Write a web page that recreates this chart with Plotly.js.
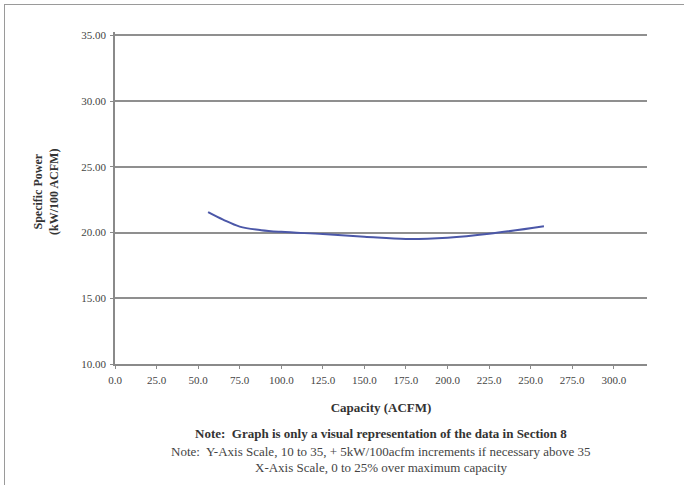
<!DOCTYPE html>
<html>
<head>
<meta charset="utf-8">
<script src="https://cdn.plot.ly/plotly-3.0.1.min.js"></script>
<style>
  html, body { margin: 0; padding: 0; background: #fff; }
  #wrap { position: relative; width: 688px; height: 485px; overflow: hidden; }
  #chart { position: absolute; left: 0; top: 0; width: 688px; height: 485px; z-index: 1; }
  #frame { position: absolute; left: 4px; top: 4px; width: 679px; height: 500px; z-index: 10;
           border-left: 1.5px solid #9a9a9a; border-top: 1.5px solid #9a9a9a; pointer-events: none; }
</style>
</head>
<body>
<div id="wrap">
  <div id="chart"></div>
  <div id="frame"></div>
</div>
<script>
// Data
const capacity = [56, 65, 75, 88, 100, 125, 150, 175, 200, 225, 258];
const specificPower = [21.55, 20.98, 20.45, 20.18, 20.05, 19.88, 19.68, 19.5, 19.6, 19.9, 20.48];

const xTickVals = [0, 25, 50, 75, 100, 125, 150, 175, 200, 225, 250, 275, 300];
const yTickVals = [10, 15, 20, 25, 30, 35];

const xTitle = 'Capacity (ACFM)';
const yTitle = 'Specific Power<br>(kW/100 ACFM)';
const note1 = 'Note:  Graph is only a visual representation of the data in Section 8';
const note2 = 'Note:  Y-Axis Scale, 10 to 35, + 5kW/100acfm increments if necessary above 35';
const note3 = 'X-Axis Scale, 0 to 25% over maximum capacity';

const serif = 'Liberation Serif, Times New Roman, serif';

const trace = {
  x: capacity,
  y: specificPower,
  type: 'scatter',
  mode: 'lines',
  line: { color: '#4b57a8', width: 2, shape: 'spline', smoothing: 1 },
  hoverinfo: 'x+y'
};

// pixel geometry of the plot area (35 gridline at y=35.5, 10 at y=364)
const yMin = 10, yTop = 35, yPad = 0.25;
const gridTop = 35.5, plotBottom = 364, plotLeft = 115, plotRight = 647;
const pxPerUnit = (plotBottom - gridTop) / (yTop - yMin);
const plotTop = gridTop - yPad * pxPerUnit;
const h = plotBottom - plotTop;
const w = plotRight - plotLeft;
function py(p) { return (plotBottom - p) / h; }
function px(p) { return (p - plotLeft) / w; }

const layout = {
  width: 688,
  height: 485,
  margin: { l: plotLeft, r: 688 - plotRight, t: plotTop, b: 485 - plotBottom, pad: 0 },
  paper_bgcolor: '#ffffff',
  plot_bgcolor: '#ffffff',
  showlegend: false,
  font: { family: serif, size: 11, color: '#444' },
  xaxis: {
    range: [0, 320],
    tickvals: xTickVals,
    ticktext: xTickVals.map(v => v.toFixed(1)),
    showgrid: false,
    zeroline: false,
    showline: true,
    linecolor: '#8a8a8a',
    linewidth: 1.5,
    ticks: 'outside',
    ticklen: 3,
    tickcolor: '#8a8a8a',
    ticklabelstandoff: 2,
    tickfont: { family: serif, size: 11, color: '#444' },
    title: { text: '<b>' + xTitle + '</b>', font: { family: serif, size: 13, color: '#333' }, standoff: 18 },
    automargin: false
  },
  yaxis: {
    range: [yMin, yTop + yPad],
    tickvals: yTickVals,
    ticktext: yTickVals.map(v => v.toFixed(2)),
    showgrid: true,
    gridcolor: '#8f8f8f',
    gridwidth: 1.5,
    zeroline: false,
    showline: true,
    linecolor: '#8a8a8a',
    linewidth: 1.5,
    ticks: 'outside',
    ticklen: 3,
    tickcolor: '#8a8a8a',
    ticklabelstandoff: 2,
    tickfont: { family: serif, size: 11, color: '#444' },
    automargin: false
  },
  annotations: [
    { text: '<b>' + yTitle + '</b>', xref: 'paper', yref: 'paper', x: px(46), y: py(192),
      xanchor: 'center', yanchor: 'middle', textangle: -90, showarrow: false,
      font: { family: serif, size: 12, color: '#333' } },
    { text: '<b>' + note1 + '</b>', xref: 'paper', yref: 'paper', x: 0.5, y: py(433),
      xanchor: 'center', yanchor: 'middle', showarrow: false, font: { family: serif, size: 13, color: '#333' } },
    { text: note2, xref: 'paper', yref: 'paper', x: 0.5, y: py(451),
      xanchor: 'center', yanchor: 'middle', showarrow: false, font: { family: serif, size: 13, color: '#444' } },
    { text: note3, xref: 'paper', yref: 'paper', x: 0.5, y: py(467),
      xanchor: 'center', yanchor: 'middle', showarrow: false, font: { family: serif, size: 13, color: '#444' } }
  ]
};

Plotly.newPlot('chart', [trace], layout, { displayModeBar: false });
</script>
</body>
</html>
